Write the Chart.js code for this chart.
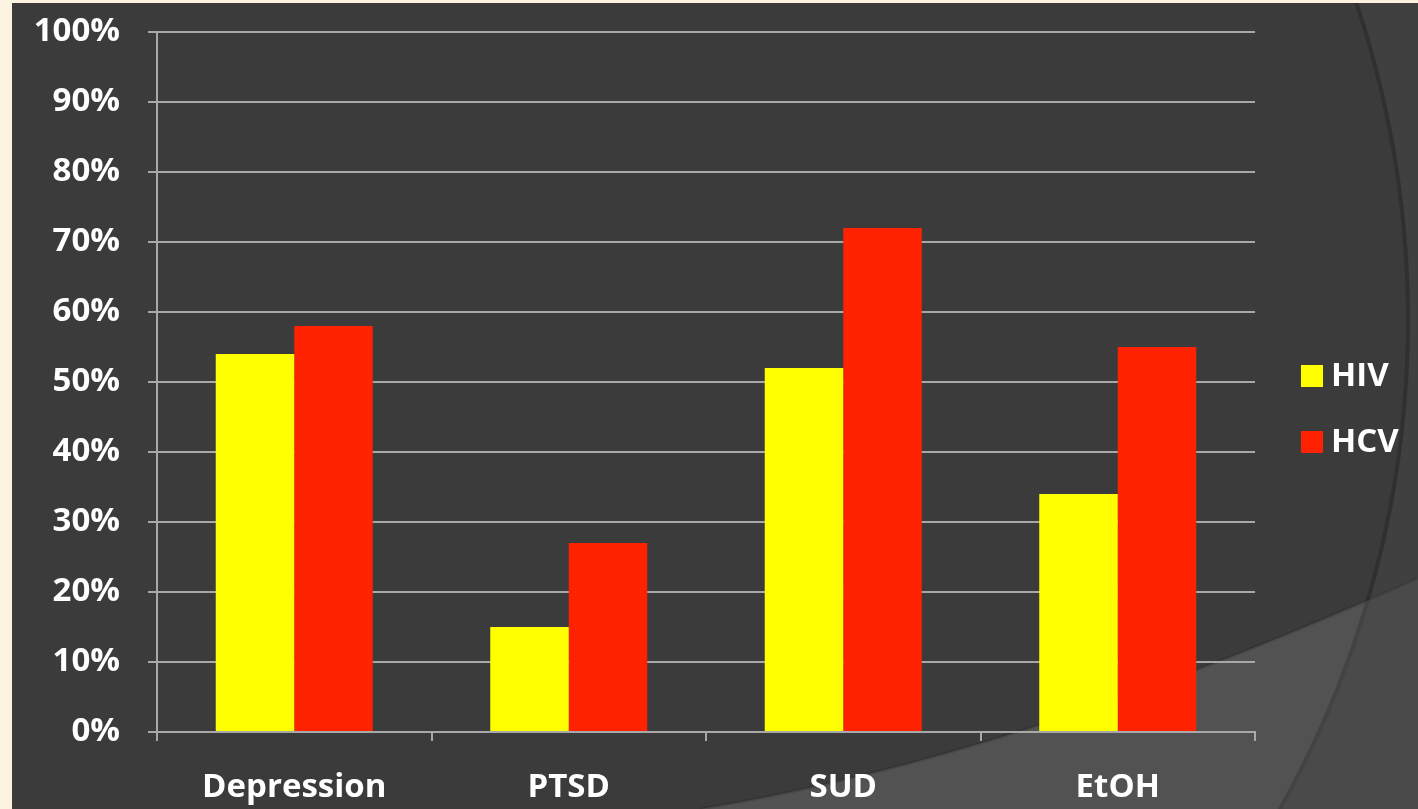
<!DOCTYPE html>
<html><head><meta charset="utf-8">
<script src="https://cdn.jsdelivr.net/npm/chart.js@4"></script>
<style>html,body{margin:0;padding:0;background:#3b3b3b;overflow:hidden}#wrap{width:1418px;height:809px;position:relative}</style>
</head><body><div id="wrap"><canvas id="c" width="1418" height="809"></canvas></div>
<script>
const categories = ['Depression', 'PTSD', 'SUD', 'EtOH'];
const hivValues = [54, 15, 52, 34];
const hcvValues = [58, 27, 72, 55];
const seriesNames = ['HIV', 'HCV'];
const yTicks = [0, 10, 20, 30, 40, 50, 60, 70, 80, 90, 100];

const FONT = '"Open Sans", "DejaVu Sans", sans-serif';

const bgPlugin = {
  id: 'bg',
  beforeDraw(chart) {
    const ctx = chart.ctx, W = chart.width, H = chart.height;
    ctx.save();
    ctx.fillStyle = '#fbf3e0';
    ctx.fillRect(0, 0, W, H);
    ctx.beginPath();
    ctx.rect(12, 3, W - 12, H - 3);
    ctx.clip();
    ctx.fillStyle = '#3b3b3b';
    ctx.fillRect(12, 3, W - 12, H - 3);
    const cx = 410, cy = 320, R = 1000;
    ctx.save();
    ctx.beginPath();
    ctx.rect(0, 0, W, H);
    ctx.arc(cx, cy, R, 0, Math.PI * 2, true);
    ctx.clip('evenodd');
    ctx.fillStyle = '#404040';
    ctx.fillRect(0, 0, W, H);
    ctx.restore();
    ctx.beginPath();
    ctx.moveTo(700, H);
    ctx.quadraticCurveTo(1021, 756, W, 578);
    ctx.lineTo(W, H);
    ctx.closePath();
    ctx.save();
    ctx.clip();
    ctx.fillStyle = '#525252';
    ctx.fillRect(0, 0, W, H);
    ctx.beginPath();
    ctx.rect(0, 0, W, H);
    ctx.arc(cx, cy, R, 0, Math.PI * 2, true);
    ctx.clip('evenodd');
    ctx.fillStyle = '#4a4a4a';
    ctx.fillRect(0, 0, W, H);
    ctx.restore();
    ctx.beginPath();
    ctx.moveTo(700, H);
    ctx.quadraticCurveTo(1021, 756, W, 578);
    ctx.strokeStyle = 'rgba(0,0,0,0.12)';
    ctx.lineWidth = 3;
    ctx.stroke();
    ctx.beginPath();
    ctx.arc(cx, cy, R - 2, -0.5, 0.6);
    ctx.strokeStyle = 'rgba(0,0,0,0.18)';
    ctx.lineWidth = 4;
    ctx.stroke();
    ctx.restore();
  }
};

const legendPlugin = {
  id: 'customLegend',
  afterDraw(chart) {
    const ctx = chart.ctx;
    ctx.save();
    const ys = [376, 442];
    chart.data.datasets.forEach((ds, i) => {
      ctx.fillStyle = ds.backgroundColor;
      ctx.fillRect(1301, ys[i] - 11, 22, 22);
      ctx.fillStyle = '#ffffff';
      ctx.font = 'bold 33px ' + FONT;
      ctx.textBaseline = 'middle';
      ctx.textAlign = 'left';
      ctx.fillText(ds.label, 1331, ys[i] + 1);
    });
    ctx.restore();
  }
};

new Chart(document.getElementById('c'), {
  type: 'bar',
  data: {
    labels: categories,
    datasets: [
      { label: seriesNames[0], data: hivValues, backgroundColor: '#ffff00', borderWidth: 0 },
      { label: seriesNames[1], data: hcvValues, backgroundColor: '#ff2200', borderWidth: 0 }
    ]
  },
  options: {
    responsive: false,
    animation: false,
    devicePixelRatio: 1,
    layout: { padding: { top: 32, left: 20, right: 163, bottom: 0 } },
    plugins: { legend: { display: false }, tooltip: { enabled: false } },
    datasets: { bar: { categoryPercentage: 0.572, barPercentage: 1.0 } },
    scales: {
      x: {
        afterFit(s) { s.height = 809 - 732; s.paddingLeft = 0; s.paddingRight = 0; },
        grid: { offset: true, drawOnChartArea: false, drawTicks: true, tickLength: 9, color: '#a8a8a8', lineWidth: 2 },
        border: { display: true, color: '#a8a8a8', width: 2 },
        ticks: { color: '#ffffff', font: { family: FONT, size: 33, weight: 'bold' }, padding: 27 }
      },
      y: {
        min: 0, max: 100,
        afterFit(s) { s.width = 157 - 20; s.paddingTop = 0; s.paddingBottom = 0; },
        afterBuildTicks(s) { s.ticks = yTicks.map(v => ({ value: v })); },
        grid: { color: '#a8a8a8', lineWidth: 2, tickLength: 9, drawTicks: true },
        border: { display: true, color: '#a8a8a8', width: 2 },
        ticks: { color: '#ffffff', font: { family: FONT, size: 33, weight: 'bold' }, padding: 28, callback: v => v + '%' }
      }
    }
  },
  plugins: [bgPlugin, legendPlugin]
});
</script></body></html>
